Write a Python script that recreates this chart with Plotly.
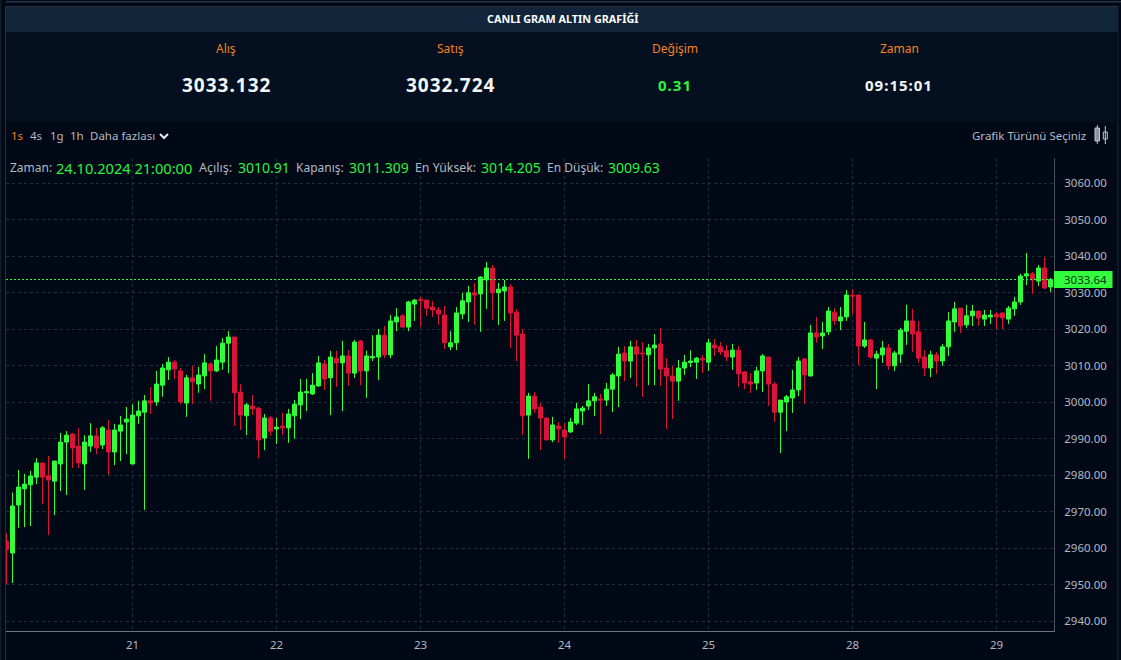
import plotly.graph_objects as go

day_labels = ["21", "22", "23", "24", "25", "28", "29"]
day_first_candle = [21, 45, 69, 93, 117, 141, 165]
current_price = 3033.64

opens = [
    2962.0, 2958.7, 2971.9, 2976.3, 2977.4, 2979.5, 2983.4, 2979.9, 2978.4, 2983.1,
    2989.1, 2991.3, 2988.0, 2983.1, 2988.0, 2990.8, 2988.3, 2992.4, 2986.4, 2992.1,
    2994.6, 2983.1, 2996.3, 2997.3, 3000.4, 3000.1, 3004.7, 3008.9, 3011.0, 3008.6,
    2999.8, 3006.7, 3005.0, 3007.2, 3010.5, 3008.6, 3011.0, 3016.2, 3017.9, 3002.8,
    2996.3, 2999.0, 2998.4, 2990.2, 2995.7, 2992.7, 2993.5, 2993.0, 2996.3, 2999.3,
    3002.6, 3002.3, 3004.5, 3010.5, 3006.7, 3012.1, 3010.8, 3012.7, 3008.0, 3016.8,
    3008.6, 3012.2, 3012.4, 3018.4, 3013.0, 3022.0, 3023.7, 3020.6, 3026.9, 3028.2,
    3028.0, 3026.1, 3025.3, 3023.9, 3015.2, 3016.3, 3024.2, 3027.5, 3030.0, 3029.7,
    3033.5, 3036.8, 3030.0, 3030.5, 3031.6, 3024.7, 3018.7, 2996.5, 3001.7, 2998.7,
    2995.7, 2989.7, 2993.5, 2992.4, 2991.9, 2994.3, 2997.6, 2999.0, 3000.4, 3000.9,
    3000.6, 3003.6, 3007.2, 3013.5, 3011.3, 3015.2, 3013.5, 3013.0, 3014.9, 3016.0,
    3009.4, 3007.2, 3005.8, 3009.4, 3010.91, 3011.0, 3012.1, 3011.0, 3015.7, 3015.2,
    3014.1, 3012.4, 3014.3, 3008.3, 3005.6, 3005.3, 3008.6, 3012.4, 3005.0, 2997.3,
    3000.1, 3001.2, 3003.4, 3011.9, 3007.2, 3019.0, 3018.2, 3019.3, 3024.7, 3022.3,
    3023.4, 3029.3, 3029.4, 3015.4, 3017.1, 3012.1, 3013.0, 3014.9, 3010.0, 3013.2,
    3019.5, 3022.3, 3019.3, 3012.4, 3009.4, 3013.0, 3011.3, 3015.2, 3022.0, 3025.8,
    3021.2, 3023.7, 3025.0, 3022.8, 3023.4, 3024.2, 3024.5, 3022.8, 3025.6, 3027.5,
    3034.6, 3035.2, 3033.2, 3036.8, 3031.6,
]
highs = [
    2964.1, 2975.3, 2981.5, 2980.4, 2981.2, 2984.7, 2983.4, 2985.3, 2983.9, 2991.6,
    2992.1, 2991.6, 2993.0, 2991.0, 2994.3, 2993.0, 2993.5, 2995.2, 2994.1, 2996.3,
    2998.7, 2999.5, 3000.4, 3002.0, 3004.2, 3008.6, 3010.5, 3012.4, 3011.6, 3009.4,
    3007.5, 3010.0, 3009.7, 3013.2, 3011.0, 3015.4, 3017.6, 3019.5, 3017.9, 3005.0,
    2999.8, 3002.0, 2998.7, 2996.8, 2996.3, 2995.7, 2997.1, 2998.2, 3000.6, 3006.4,
    3006.4, 3008.0, 3012.7, 3011.6, 3014.1, 3014.1, 3016.8, 3014.3, 3017.1, 3017.1,
    3014.1, 3018.4, 3020.1, 3020.9, 3023.9, 3025.8, 3024.2, 3027.8, 3028.3, 3028.9,
    3028.0, 3027.8, 3026.1, 3026.4, 3019.5, 3026.1, 3030.0, 3031.9, 3032.7, 3034.6,
    3038.4, 3037.6, 3032.7, 3033.5, 3032.4, 3025.6, 3020.1, 3002.6, 3002.8, 2999.8,
    2995.7, 2996.0, 2994.6, 2994.3, 2995.7, 2999.8, 2999.0, 3005.0, 3002.6, 3002.3,
    3005.3, 3008.0, 3015.2, 3015.4, 3016.8, 3017.1, 3016.5, 3016.0, 3018.7, 3020.4,
    3012.1, 3009.9, 3011.6, 3013.0, 3014.205, 3012.4, 3013.0, 3017.4, 3017.4, 3016.5,
    3015.7, 3016.0, 3015.4, 3008.6, 3008.0, 3009.7, 3013.2, 3012.4, 3005.6, 3000.6,
    3002.0, 3008.9, 3012.4, 3012.1, 3021.2, 3023.4, 3022.0, 3026.1, 3025.8, 3026.1,
    3030.8, 3031.0, 3029.4, 3022.0, 3017.3, 3014.1, 3016.8, 3016.0, 3014.1, 3020.4,
    3026.7, 3025.6, 3022.3, 3014.3, 3014.1, 3013.8, 3016.0, 3024.7, 3027.5, 3025.8,
    3026.7, 3026.7, 3025.0, 3025.3, 3025.3, 3024.7, 3024.5, 3026.4, 3028.9, 3035.2,
    3040.9, 3035.7, 3037.6, 3039.8, 3034.1,
]
lows = [
    2950.2, 2950.5, 2965.6, 2965.8, 2966.1, 2977.6, 2972.1, 2963.6, 2969.1, 2975.7,
    2974.6, 2982.0, 2982.0, 2976.0, 2986.4, 2985.8, 2987.2, 2980.1, 2982.8, 2983.9,
    2985.8, 2983.1, 2994.1, 2970.5, 2996.8, 2999.0, 3001.5, 3006.1, 3006.4, 2999.5,
    2996.0, 2999.5, 3002.6, 3003.6, 3000.4, 3008.3, 3008.9, 3008.0, 2993.5, 2992.4,
    2991.0, 2996.5, 2984.7, 2986.9, 2990.8, 2988.6, 2991.0, 2988.9, 2990.0, 2995.4,
    2997.6, 3002.0, 3004.2, 3003.4, 2996.5, 3004.2, 2997.6, 3004.5, 3006.7, 3004.7,
    3001.2, 3011.3, 3006.1, 3012.1, 3012.1, 3019.5, 3020.4, 3019.5, 3022.3, 3020.6,
    3023.7, 3023.4, 3021.2, 3014.6, 3014.3, 3014.3, 3022.8, 3022.0, 3021.2, 3019.3,
    3025.6, 3022.6, 3021.2, 3022.3, 3014.9, 3011.3, 2991.0, 2984.5, 2997.1, 2986.9,
    2989.7, 2989.1, 2988.9, 2984.5, 2991.6, 2993.8, 2993.8, 2997.9, 2996.3, 2991.3,
    2999.0, 2997.3, 2998.7, 3005.8, 3006.7, 3004.2, 3001.5, 3004.7, 3004.7, 3004.5,
    2992.7, 2995.4, 3000.4, 3007.5, 3009.63, 3006.4, 3008.0, 3008.6, 3012.7, 3013.0,
    3011.3, 3008.9, 3004.2, 3003.6, 3002.6, 3003.4, 3002.8, 2999.0, 2994.6, 2986.1,
    2992.1, 2997.1, 3001.7, 2999.5, 3007.2, 3016.3, 3014.6, 3018.4, 3021.2, 3019.8,
    3022.3, 3024.2, 3010.2, 3014.9, 3011.9, 3003.6, 3010.8, 3008.9, 3008.6, 3010.8,
    3015.7, 3013.8, 3010.8, 3007.2, 3006.9, 3007.8, 3010.0, 3012.7, 3019.3, 3019.0,
    3020.4, 3020.9, 3020.9, 3020.9, 3021.5, 3020.1, 3020.1, 3021.5, 3023.7, 3026.7,
    3032.1, 3029.7, 3031.9, 3031.0, 3030.2,
]
closes = [
    2959.6, 2971.6, 2976.8, 2977.6, 2979.8, 2983.4, 2979.5, 2978.7, 2983.9, 2989.1,
    2991.0, 2987.5, 2983.4, 2989.1, 2990.8, 2987.5, 2993.0, 2986.4, 2992.4, 2993.8,
    2995.4, 2996.5, 2997.6, 3000.4, 2999.8, 3005.0, 3009.4, 3011.0, 3009.1, 3000.1,
    3006.7, 3005.6, 3007.5, 3010.8, 3008.6, 3011.6, 3016.2, 3017.9, 3002.6, 2996.5,
    2999.3, 2998.2, 2989.7, 2995.7, 2992.1, 2993.2, 2993.0, 2996.8, 2999.5, 3002.8,
    3002.9, 3004.7, 3010.8, 3006.4, 3012.4, 3010.8, 3012.7, 3008.0, 3016.5, 3008.6,
    3012.7, 3012.5, 3018.4, 3013.0, 3022.3, 3023.4, 3020.6, 3027.5, 3028.0, 3027.9,
    3025.8, 3025.3, 3024.2, 3016.3, 3016.3, 3024.5, 3027.8, 3030.0, 3029.4, 3034.3,
    3036.8, 3030.0, 3031.0, 3031.6, 3024.5, 3018.4, 2996.3, 3001.7, 2998.2, 2995.7,
    2989.7, 2993.8, 2992.7, 2990.5, 2994.6, 2998.2, 2998.4, 3000.4, 3001.5, 3000.6,
    3003.6, 3007.5, 3013.2, 3011.3, 3015.2, 3013.2, 3013.3, 3014.9, 3015.7, 3009.1,
    3007.2, 3005.8, 3009.4, 3011.0, 3011.309, 3012.1, 3011.6, 3016.3, 3014.9, 3013.8,
    3012.4, 3014.3, 3007.8, 3005.3, 3005.0, 3008.6, 3012.7, 3005.0, 2997.3, 3000.6,
    3001.5, 3003.4, 3011.3, 3007.5, 3019.0, 3017.9, 3019.0, 3025.0, 3022.3, 3023.4,
    3029.4, 3029.1, 3015.4, 3017.1, 3012.4, 3013.2, 3014.9, 3010.0, 3013.5, 3019.8,
    3022.3, 3018.7, 3012.1, 3009.4, 3013.0, 3011.3, 3015.2, 3022.3, 3025.6, 3020.9,
    3023.7, 3025.0, 3023.1, 3023.9, 3023.9, 3023.4, 3023.1, 3025.8, 3027.5, 3034.6,
    3035.2, 3033.5, 3036.8, 3031.3, 3033.64,
]
candle_index = list(range(len(opens)))

GREEN = "#32FF3C"
RED = "#DC143C"
ORANGE = "#F5811F"
TEXT_GREEN = "#2CF23C"
GREY = "#B4BAC2"
FONT = "Noto Sans"

# Plot-area geometry in page pixels
L, R, T, B = 6, 1054, 158, 631


def px_x(x):
    return (x - L) / (R - L)


def px_y(y):
    return (B - y) / (B - T)


annotations = []


def note(x, y, text, size, color, anchor="center", bold=False, spacing=0):
    body = f"<b>{text}</b>" if bold else text
    if spacing:
        body = f'<span style="letter-spacing:{spacing}px">{body}</span>'
    annotations.append(dict(
        xref="paper", yref="paper", x=px_x(x), y=px_y(y), text=body,
        showarrow=False, xanchor=anchor, yanchor="middle", borderpad=0,
        font=dict(family=FONT, size=size, color=color),
    ))


shapes = []


def rect(x0, y0, x1, y1, fill, layer="below", line=None):
    shapes.append(dict(
        type="rect", xref="paper", yref="paper", layer=layer,
        x0=px_x(x0), x1=px_x(x1), y0=px_y(y0), y1=px_y(y1),
        fillcolor=fill, line=dict(width=1, color=line) if line else dict(width=0),
    ))


# page furniture
rect(0, 0, 1121, 660, "#010816")
rect(0, 0, 1.5, 660, "#131B26")
rect(6, 1, 1121, 2.5, "#2A3348")
rect(5, 6, 6, 660, "#27303C")
rect(1117.5, 6, 1118.5, 660, "#1E2835")
rect(5, 6, 1118, 7, "#27303C")
rect(6, 7, 1118, 32, "#11243A")
rect(6, 32, 1118, 122, "#04101F")

# top readouts
note(562, 18.5, "CANLI GRAM ALTIN GRAFİĞİ", 10.8, "#FFFFFF", bold=True)
for cx, label in zip([226, 450, 675, 899], ["Alış", "Satış", "Değişim", "Zaman"]):
    note(cx, 48, label, 12, ORANGE)
note(226, 85, "3033.132", 19, "#F4F6F8", bold=True, spacing=1)
note(450, 85, "3032.724", 19, "#F4F6F8", bold=True, spacing=1)
note(675, 85, "0.31", 15, TEXT_GREEN, bold=True, spacing=1)
note(899, 85, "09:15:01", 15, "#F4F6F8", bold=True, spacing=1)

# toolbar
note(9.5, 136, "1s", 11.5, ORANGE, "left")
note(28.5, 136, "4s", 11.5, GREY, "left")
note(48.5, 136, "1g", 11.5, GREY, "left")
note(68.5, 136, "1h", 11.5, GREY, "left")
note(88.5, 136, "Daha fazlası", 11.5, GREY, "left")
note(1087, 136, "Grafik Türünü Seçiniz", 11.5, GREY, "right")
shapes.append(dict(
    type="path", xref="paper", yref="paper", layer="above",
    path=f"M {px_x(160)} {px_y(134)} L {px_x(164)} {px_y(138)} L {px_x(168)} {px_y(134)}",
    line=dict(color="#E8EAEC", width=2),
))
for x0, x1, xm, y0, y1, w0, w1, fill in [
    (1095, 1099.5, 1097.3, 128, 141, 125, 144, "#8E949C"),
    (1103.3, 1107.3, 1105.3, 132, 139, 126, 144, "rgba(0,0,0,0)"),
]:
    shapes.append(dict(type="line", xref="paper", yref="paper", layer="above",
                       x0=px_x(xm), x1=px_x(xm), y0=px_y(w0), y1=px_y(w1),
                       line=dict(color="#C4C8CE", width=1)))
    rect(x0, y0, x1, y1, fill, layer="above", line="#C4C8CE")

# readout row
info = [
    (9, "Zaman:", GREY, 12), (55, "24.10.2024 21:00:00", TEXT_GREEN, 14.6),
    (197.5, "Açılış:", GREY, 12.5), (236.5, "3010.91", TEXT_GREEN, 14),
    (294.5, "Kapanış:", GREY, 12), (347.5, "3011.309", TEXT_GREEN, 14),
    (413.5, "En Yüksek:", GREY, 12.3), (479.5, "3014.205", TEXT_GREEN, 14),
    (545.5, "En Düşük:", GREY, 12), (606.5, "3009.63", TEXT_GREEN, 14),
]
for x, text, color, size in info:
    note(x, 167.5, text, size, color, "left")

# current price line and tag
shapes.append(dict(type="line", xref="paper", yref="y", layer="above", x0=0, x1=1,
                   y0=current_price, y1=current_price,
                   line=dict(color=GREEN, width=1, dash="2px,2px")))
rect(1054, 271, 1112.5, 288, GREEN, layer="above")
note(1085, 279.5, f"{current_price:.2f}", 11.5, "#06301A")

fig = go.Figure(go.Candlestick(
    x=candle_index, open=opens, high=highs, low=lows, close=closes,
    whiskerwidth=0,
    increasing=dict(line=dict(color=GREEN, width=1), fillcolor=GREEN),
    decreasing=dict(line=dict(color=RED, width=1), fillcolor=RED),
    showlegend=False, hoverinfo="skip",
))

fig.update_layout(
    width=1121, height=660,
    margin=dict(l=L, r=1121 - R, t=T, b=660 - B, pad=0),
    paper_bgcolor="#010816", plot_bgcolor="rgba(0,0,0,0)",
    showlegend=False, boxgap=1 / 3, boxgroupgap=0, font=dict(family=FONT, color=GREY),
    shapes=shapes, annotations=annotations,
    xaxis=dict(
        range=[-0.0833, 174.5833], rangeslider=dict(visible=False),
        tickmode="array", tickvals=day_first_candle, ticktext=day_labels,
        showgrid=True, gridcolor="#262D3B", griddash="3px,3px", gridwidth=1,
        showline=True, linecolor="#6E7480", linewidth=1, zeroline=False,
        ticks="outside", ticklen=3, tickcolor="rgba(0,0,0,0)",
        tickfont=dict(family=FONT, size=11.5, color=GREY),
    ),
    yaxis=dict(
        side="right", range=[2937.35, 3066.93],
        tick0=2940, dtick=10, tickformat=".2f",
        showgrid=True, gridcolor="#262D3B", griddash="3px,3px", gridwidth=1,
        showline=True, linecolor="#4A505C", linewidth=1, zeroline=False,
        ticks="outside", ticklen=7, tickcolor="rgba(0,0,0,0)",
        tickfont=dict(family=FONT, size=11.5, color=GREY),
    ),
)

fig.write_html(
    "out.html",
    config=dict(displayModeBar=False),
    post_script="document.body.style.margin='0';document.body.style.background='#010816';document.body.style.overflow='hidden';",
)
